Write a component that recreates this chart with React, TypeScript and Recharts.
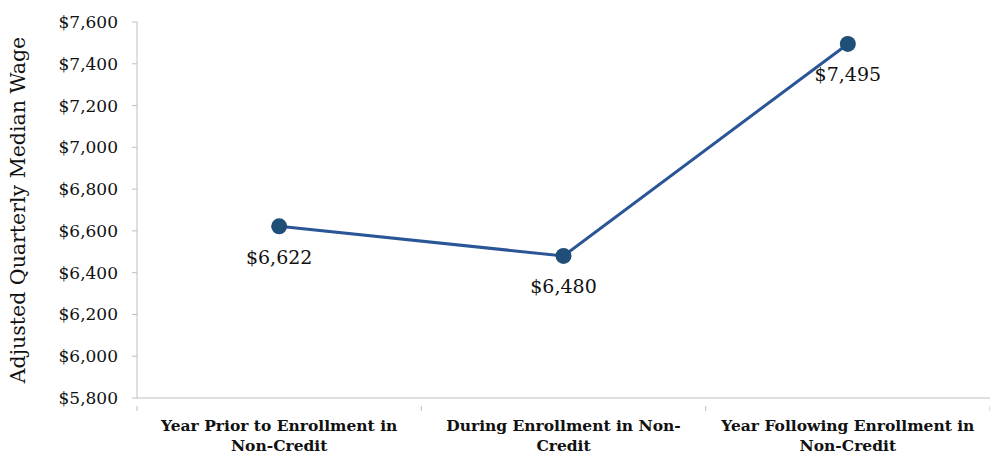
import { LineChart, Line, XAxis, YAxis, LabelList } from 'recharts';

// categories (wrapped the way the source chart breaks them)
const categoryLines: string[][] = [
  ['Year Prior to Enrollment in', 'Non-Credit'],
  ['During Enrollment in Non-', 'Credit'],
  ['Year Following Enrollment in', 'Non-Credit'],
];

const wages = [6622, 6480, 7495];

const yTicks = [5800, 6000, 6200, 6400, 6600, 6800, 7000, 7200, 7400, 7600];

const data = wages.map((wage, i) => ({ x: i + 0.5, wage }));

// ticks on the x axis: labels at band centers, tick marks at band edges
const xTicks = [0, 0.5, 1, 1.5, 2, 2.5, 3];

const FONT = '"DejaVu Serif", Georgia, serif';
const AXIS_COLOR = '#BFBFBF';

const money = (v: number) => '$' + v.toLocaleString('en-US');

function CategoryTick(props: any) {
  const { x, y, payload } = props;
  const v = payload.value as number;
  if (Number.isInteger(v)) {
    return <line x1={x} y1={y} x2={x} y2={y + 5} stroke={AXIS_COLOR} strokeWidth={1} />;
  }
  const lines = categoryLines[Math.floor(v)];
  return (
    <text x={x} y={y} textAnchor="middle" fontFamily={FONT} fontSize={15.5} fontWeight="bold" fill="#111">
      {lines.map((l, i) => (
        <tspan key={i} x={x} dy={i === 0 ? 25 : 20}>
          {l}
        </tspan>
      ))}
    </text>
  );
}

export default function App() {
  return (
    <div style={{ position: 'absolute', left: 0, top: 0, background: '#fff' }}>
      <LineChart width={990} height={455} data={data} margin={{ top: 22, right: 0, bottom: 0, left: 0 }}>
        <XAxis
          dataKey="x"
          type="number"
          domain={[0, 3]}
          ticks={xTicks}
          interval={0}
          tickLine={false}
          tick={<CategoryTick />}
          height={57}
          stroke={AXIS_COLOR}
        />
        <YAxis
          domain={[5800, 7600]}
          ticks={yTicks}
          interval={0}
          width={137}
          tickSize={5}
          tickMargin={14}
          stroke={AXIS_COLOR}
          tickFormatter={money}
          tick={{ fontFamily: FONT, fontSize: 17, fill: '#111' }}
          label={{
            value: 'Adjusted Quarterly Median Wage',
            angle: -90,
            position: 'insideLeft',
            offset: 18,
            style: { fontFamily: FONT, fontSize: 20.5, fill: '#111', textAnchor: 'middle' },
          }}
        />
        <Line
          dataKey="wage"
          stroke="#2A5596"
          strokeWidth={3}
          dot={{ r: 8, fill: '#1F4E79', stroke: '#1F4E79', strokeWidth: 0 }}
          isAnimationActive={false}
        >
          <LabelList
            dataKey="wage"
            position="bottom"
            offset={24}
            formatter={(v: any) => money(Number(v))}
            style={{ fontFamily: FONT, fontSize: 19, fill: '#111' }}
          />
        </Line>
      </LineChart>
    </div>
  );
}
